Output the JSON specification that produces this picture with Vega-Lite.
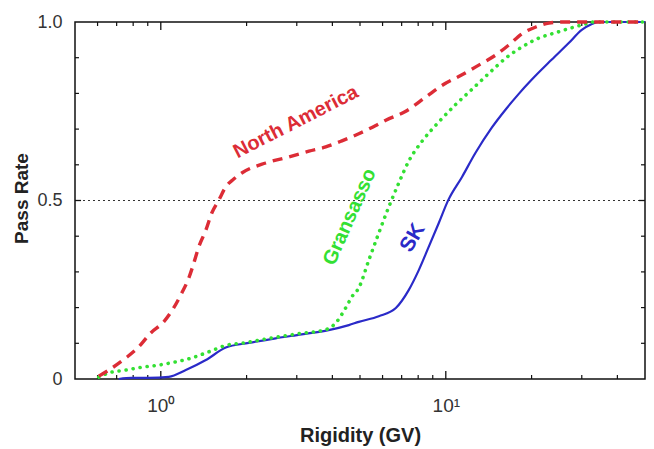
{
  "$schema": "https://vega.github.io/schema/vega-lite/v6.json",
  "width": 570,
  "height": 357,
  "autosize": "none",
  "padding": {"left": 75, "top": 22, "right": 9, "bottom": 70},
  "background": "white",
  "config": {
    "view": {"stroke": "#111", "strokeWidth": 1.5},
    "font": "Liberation Sans",
    "axis": {
      "domain": false,
      "grid": false,
      "ticks": false,
      "labelFont": "Liberation Sans",
      "labelColor": "#333",
      "labelFontSize": 18,
      "labelFlush": false,
      "labelOverlap": false,
      "titleFont": "Liberation Sans",
      "titleFontWeight": "bold",
      "titleFontSize": 19,
      "titleColor": "#222"
    }
  },
  "datasets": {
    "curves": [
      {"series": "North America", "x": 0.606, "y": 0.008},
      {"series": "North America", "x": 0.657, "y": 0.025},
      {"series": "North America", "x": 0.754, "y": 0.059},
      {"series": "North America", "x": 0.837, "y": 0.09},
      {"series": "North America", "x": 0.922, "y": 0.129},
      {"series": "North America", "x": 1.024, "y": 0.16},
      {"series": "North America", "x": 1.111, "y": 0.2},
      {"series": "North America", "x": 1.185, "y": 0.241},
      {"series": "North America", "x": 1.254, "y": 0.283},
      {"series": "North America", "x": 1.306, "y": 0.325},
      {"series": "North America", "x": 1.359, "y": 0.37},
      {"series": "North America", "x": 1.439, "y": 0.417},
      {"series": "North America", "x": 1.51, "y": 0.465},
      {"series": "North America", "x": 1.598, "y": 0.501},
      {"series": "North America", "x": 1.69, "y": 0.538},
      {"series": "North America", "x": 1.803, "y": 0.56},
      {"series": "North America", "x": 1.924, "y": 0.577},
      {"series": "North America", "x": 2.335, "y": 0.605},
      {"series": "North America", "x": 2.81, "y": 0.622},
      {"series": "North America", "x": 3.31, "y": 0.638},
      {"series": "North America", "x": 3.79, "y": 0.65},
      {"series": "North America", "x": 4.32, "y": 0.667},
      {"series": "North America", "x": 4.95, "y": 0.687},
      {"series": "North America", "x": 5.68, "y": 0.71},
      {"series": "North America", "x": 6.16, "y": 0.725},
      {"series": "North America", "x": 7.24, "y": 0.75},
      {"series": "North America", "x": 8.51, "y": 0.79},
      {"series": "North America", "x": 9.68, "y": 0.822},
      {"series": "North America", "x": 11.4, "y": 0.852},
      {"series": "North America", "x": 13.1, "y": 0.88},
      {"series": "North America", "x": 15.0, "y": 0.908},
      {"series": "North America", "x": 16.6, "y": 0.935},
      {"series": "North America", "x": 18.5, "y": 0.967},
      {"series": "North America", "x": 20.7, "y": 0.986},
      {"series": "North America", "x": 23.0, "y": 0.997},
      {"series": "North America", "x": 25.9, "y": 1.0},
      {"series": "North America", "x": 50, "y": 1.0},
      {"series": "Gransasso", "x": 0.606, "y": 0.005},
      {"series": "Gransasso", "x": 0.657, "y": 0.017},
      {"series": "Gransasso", "x": 0.754, "y": 0.025},
      {"series": "Gransasso", "x": 0.858, "y": 0.033},
      {"series": "Gransasso", "x": 0.984, "y": 0.039},
      {"series": "Gransasso", "x": 1.129, "y": 0.048},
      {"series": "Gransasso", "x": 1.284, "y": 0.059},
      {"series": "Gransasso", "x": 1.473, "y": 0.076},
      {"series": "Gransasso", "x": 1.69, "y": 0.094},
      {"series": "Gransasso", "x": 1.987, "y": 0.102},
      {"series": "Gransasso", "x": 2.45, "y": 0.115},
      {"series": "Gransasso", "x": 3.05, "y": 0.127},
      {"series": "Gransasso", "x": 3.79, "y": 0.138},
      {"series": "Gransasso", "x": 4.11, "y": 0.157},
      {"series": "Gransasso", "x": 4.46, "y": 0.2},
      {"series": "Gransasso", "x": 4.68, "y": 0.23},
      {"series": "Gransasso", "x": 4.95, "y": 0.255},
      {"series": "Gransasso", "x": 5.37, "y": 0.333},
      {"series": "Gransasso", "x": 5.82, "y": 0.409},
      {"series": "Gransasso", "x": 6.31, "y": 0.482},
      {"series": "Gransasso", "x": 6.84, "y": 0.549},
      {"series": "Gransasso", "x": 7.41, "y": 0.61},
      {"series": "Gransasso", "x": 8.24, "y": 0.665},
      {"series": "Gransasso", "x": 9.45, "y": 0.72},
      {"series": "Gransasso", "x": 10.8, "y": 0.768},
      {"series": "Gransasso", "x": 12.3, "y": 0.81},
      {"series": "Gransasso", "x": 14.2, "y": 0.857},
      {"series": "Gransasso", "x": 16.3, "y": 0.9},
      {"series": "Gransasso", "x": 18.5, "y": 0.93},
      {"series": "Gransasso", "x": 21.2, "y": 0.955},
      {"series": "Gransasso", "x": 24.3, "y": 0.97},
      {"series": "Gransasso", "x": 27.7, "y": 0.984},
      {"series": "Gransasso", "x": 30.5, "y": 0.993},
      {"series": "Gransasso", "x": 33.0, "y": 1.0},
      {"series": "Gransasso", "x": 50, "y": 1.0},
      {"series": "SK", "x": 0.712, "y": 0.0},
      {"series": "SK", "x": 0.791, "y": 0.003},
      {"series": "SK", "x": 0.908, "y": 0.003},
      {"series": "SK", "x": 1.067, "y": 0.006},
      {"series": "SK", "x": 1.224, "y": 0.025},
      {"series": "SK", "x": 1.439, "y": 0.053},
      {"series": "SK", "x": 1.69, "y": 0.088},
      {"series": "SK", "x": 2.036, "y": 0.101},
      {"series": "SK", "x": 2.53, "y": 0.114},
      {"series": "SK", "x": 3.12, "y": 0.125},
      {"series": "SK", "x": 3.88, "y": 0.137},
      {"series": "SK", "x": 4.57, "y": 0.151},
      {"series": "SK", "x": 4.95, "y": 0.16},
      {"series": "SK", "x": 5.82, "y": 0.176},
      {"series": "SK", "x": 6.68, "y": 0.199},
      {"series": "SK", "x": 7.41, "y": 0.249},
      {"series": "SK", "x": 8.04, "y": 0.305},
      {"series": "SK", "x": 8.71, "y": 0.37},
      {"series": "SK", "x": 9.45, "y": 0.437},
      {"series": "SK", "x": 10.2, "y": 0.501},
      {"series": "SK", "x": 11.4, "y": 0.566},
      {"series": "SK", "x": 12.7, "y": 0.633},
      {"series": "SK", "x": 14.5, "y": 0.704},
      {"series": "SK", "x": 16.3, "y": 0.757},
      {"series": "SK", "x": 18.0, "y": 0.798},
      {"series": "SK", "x": 20.0, "y": 0.838},
      {"series": "SK", "x": 23.5, "y": 0.894},
      {"series": "SK", "x": 27.0, "y": 0.941},
      {"series": "SK", "x": 30.0, "y": 0.978},
      {"series": "SK", "x": 32.3, "y": 0.993},
      {"series": "SK", "x": 34.4, "y": 1.0},
      {"series": "SK", "x": 50, "y": 1.0}
    ],
    "labels": [
      {"name": "North America", "x": 2.98, "y": 0.72},
      {"name": "Gransasso", "x": 4.6, "y": 0.454},
      {"name": "SK", "x": 7.66, "y": 0.395}
    ],
    "xmajor": [{"v": 1}, {"v": 10}],
    "xminor": [{"v": 0.6}, {"v": 0.7}, {"v": 0.8}, {"v": 0.9}, {"v": 2}, {"v": 3}, {"v": 4}, {"v": 5}, {"v": 6}, {"v": 7}, {"v": 8}, {"v": 9}, {"v": 20}, {"v": 30}, {"v": 40}],
    "ymajor": [{"v": 0.5}],
    "yminor": [{"v": 0.1}, {"v": 0.2}, {"v": 0.3}, {"v": 0.4}, {"v": 0.6}, {"v": 0.7}, {"v": 0.8}, {"v": 0.9}]
  },
  "layer": [
    {
      "data": {"values": [{"v": 0.5}]},
      "mark": {"type": "rule", "color": "#333", "strokeWidth": 1, "strokeDash": [2, 3]},
      "encoding": {
        "y": {"field": "v", "type": "quantitative", "scale": {"domain": [0, 1], "nice": false, "zero": false}, "axis": null}
      }
    },
    {
      "data": {"name": "xmajor"},
      "mark": {"type": "rule", "color": "#111", "strokeWidth": 1.3},
      "encoding": {
        "x": {"field": "v", "type": "quantitative", "scale": {"type": "log", "domain": [0.5, 50], "nice": false, "zero": false}, "axis": null},
        "y": {"datum": 0, "type": "quantitative", "axis": null},
        "y2": {"datum": 0.0224}
      }
    },
    {
      "data": {"name": "xmajor"},
      "mark": {"type": "rule", "color": "#111", "strokeWidth": 1.3},
      "encoding": {
        "x": {"field": "v", "type": "quantitative", "axis": null},
        "y": {"datum": 1, "type": "quantitative", "axis": null},
        "y2": {"datum": 0.9776}
      }
    },
    {
      "data": {"name": "xminor"},
      "mark": {"type": "rule", "color": "#111", "strokeWidth": 1.2},
      "encoding": {
        "x": {"field": "v", "type": "quantitative", "axis": null},
        "y": {"datum": 0, "type": "quantitative", "axis": null},
        "y2": {"datum": 0.0112}
      }
    },
    {
      "data": {"name": "xminor"},
      "mark": {"type": "rule", "color": "#111", "strokeWidth": 1.2},
      "encoding": {
        "x": {"field": "v", "type": "quantitative", "axis": null},
        "y": {"datum": 1, "type": "quantitative", "axis": null},
        "y2": {"datum": 0.9888}
      }
    },
    {
      "data": {"name": "ymajor"},
      "mark": {"type": "rule", "color": "#111", "strokeWidth": 1.3},
      "encoding": {
        "y": {"field": "v", "type": "quantitative", "axis": null},
        "x": {"datum": 0.5, "type": "quantitative", "axis": null},
        "x2": {"datum": 0.525}
      }
    },
    {
      "data": {"name": "ymajor"},
      "mark": {"type": "rule", "color": "#111", "strokeWidth": 1.3},
      "encoding": {
        "y": {"field": "v", "type": "quantitative", "axis": null},
        "x": {"datum": 50, "type": "quantitative", "axis": null},
        "x2": {"datum": 47.63}
      }
    },
    {
      "data": {"name": "yminor"},
      "mark": {"type": "rule", "color": "#111", "strokeWidth": 1.2},
      "encoding": {
        "y": {"field": "v", "type": "quantitative", "axis": null},
        "x": {"datum": 0.5, "type": "quantitative", "axis": null},
        "x2": {"datum": 0.5163}
      }
    },
    {
      "data": {"name": "yminor"},
      "mark": {"type": "rule", "color": "#111", "strokeWidth": 1.2},
      "encoding": {
        "y": {"field": "v", "type": "quantitative", "axis": null},
        "x": {"datum": 50, "type": "quantitative", "axis": null},
        "x2": {"datum": 48.41}
      }
    },
    {
      "data": {"name": "curves"},
      "transform": [{"filter": "datum.series === 'SK'"}],
      "mark": {"type": "line", "color": "#2a2ac8", "strokeWidth": 2.2, "interpolate": "monotone"},
      "encoding": {
        "x": {"field": "x", "type": "quantitative", "axis": null},
        "y": {"field": "y", "type": "quantitative", "axis": null}
      }
    },
    {
      "data": {"name": "curves"},
      "transform": [{"filter": "datum.series === 'Gransasso'"}],
      "mark": {"type": "line", "color": "#33e033", "strokeWidth": 3.6, "strokeCap": "round", "strokeDash": [0.1, 7], "interpolate": "monotone"},
      "encoding": {
        "x": {"field": "x", "type": "quantitative", "axis": null},
        "y": {"field": "y", "type": "quantitative", "axis": null}
      }
    },
    {
      "data": {"name": "curves"},
      "transform": [{"filter": "datum.series === 'North America'"}],
      "mark": {"type": "line", "color": "#dc2c36", "strokeWidth": 3.4, "strokeDash": [10, 7], "interpolate": "monotone"},
      "encoding": {
        "x": {"field": "x", "type": "quantitative",
              "axis": {"orient": "bottom", "values": [1, 10], "labelPadding": 17, "labelFontSize": 19,
                       "labelExpr": "datum.value == 1 ? '10⁰' : '10¹'",
                       "title": "Rigidity (GV)", "titleFontSize": 20, "titleBaseline": "alphabetic", "titleY": 62}},
        "y": {"field": "y", "type": "quantitative",
              "axis": {"orient": "left", "values": [0, 0.5, 1], "labelPadding": 13,
                       "labelExpr": "datum.value == 0 ? '0' : format(datum.value, '.1f')",
                       "title": "Pass Rate", "titleFontSize": 19, "titleAngle": -90, "titleAlign": "center", "titleBaseline": "alphabetic", "titleX": -48, "titleY": 176}}
      }
    },
    {
      "data": {"name": "labels"},
      "transform": [{"filter": "datum.name === 'North America'"}],
      "mark": {"type": "text", "color": "#dc2c36", "fontWeight": "bold", "fontSize": 20, "angle": -27, "align": "center", "baseline": "middle"},
      "encoding": {
        "x": {"field": "x", "type": "quantitative", "axis": null},
        "y": {"field": "y", "type": "quantitative", "axis": null},
        "text": {"field": "name"}
      }
    },
    {
      "data": {"name": "labels"},
      "transform": [{"filter": "datum.name === 'Gransasso'"}],
      "mark": {"type": "text", "color": "#33e033", "fontWeight": "bold", "fontSize": 20, "angle": -66, "align": "center", "baseline": "middle"},
      "encoding": {
        "x": {"field": "x", "type": "quantitative", "axis": null},
        "y": {"field": "y", "type": "quantitative", "axis": null},
        "text": {"field": "name"}
      }
    },
    {
      "data": {"name": "labels"},
      "transform": [{"filter": "datum.name === 'SK'"}],
      "mark": {"type": "text", "color": "#2a2ac8", "fontWeight": "bold", "fontSize": 21, "angle": -60, "align": "center", "baseline": "middle"},
      "encoding": {
        "x": {"field": "x", "type": "quantitative", "axis": null},
        "y": {"field": "y", "type": "quantitative", "axis": null},
        "text": {"field": "name"}
      }
    }
  ],
  "resolve": {"axis": {"x": "independent", "y": "independent"}}
}
